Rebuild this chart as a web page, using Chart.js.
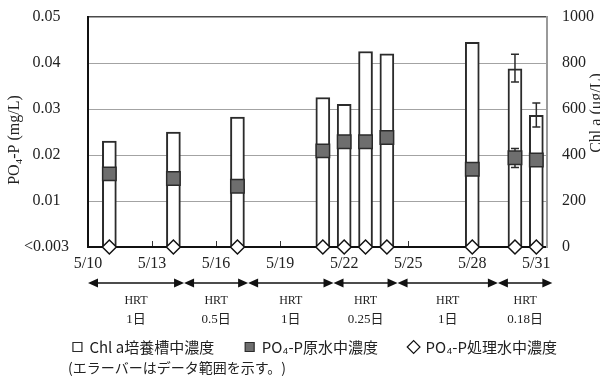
<!DOCTYPE html>
<html>
<head>
<meta charset="utf-8">
<script src="https://cdn.jsdelivr.net/npm/chart.js@4.4.1/dist/chart.umd.min.js"></script>
<style>
  html, body { margin: 0; padding: 0; background: #fff; overflow: hidden; }
  #wrap { width: 600px; height: 381px; position: relative; }
</style>
</head>
<body>
<div id="wrap"><canvas id="c" width="600" height="381"></canvas></div>
<script>
// Sampling dates (May) and measured values
const sampleDates = ['5/11', '5/14', '5/17', '5/21', '5/22', '5/23', '5/24', '5/28', '5/30', '5/31'];
const chlA       = [460, 500, 565, 650, 620, 850, 840, 890, 775, 573];          // µg/L
const chlAMin    = [null, null, null, null, null, null, null, null, 717, 522];
const chlAMax    = [null, null, null, null, null, null, null, null, 838, 626];
const po4Raw     = [0.0159, 0.0149, 0.0132, 0.0209, 0.0229, 0.0229, 0.0238, 0.0169, 0.0194, 0.0189]; // mg/L
const po4RawMin  = [null, null, null, null, null, null, null, null, 0.0173, null];
const po4RawMax  = [null, null, null, null, null, null, null, null, 0.0214, null];
const po4Treated = [0, 0, 0, 0, 0, 0, 0, 0, 0, 0];   // below detection limit (<0.003)

// Axis ticks
const dateTickLabels = ['5/10', '5/13', '5/16', '5/19', '5/22', '5/25', '5/28', '5/31'];
const po4TickValues  = [0, 0.01, 0.02, 0.03, 0.04, 0.05];
const po4TickLabels  = ['<0.003', '0.01', '0.02', '0.03', '0.04', '0.05'];
const chlTickValues  = [0, 200, 400, 600, 800, 1000];
const chlTickLabels  = ['0', '200', '400', '600', '800', '1000'];

// HRT periods: boundaries in days after 5/10, and their labels
const hrtBoundDays = [0, 4.5, 7.5, 11.5, 14.5, 19.2, 21.75];
const hrtLabels    = ['1日', '0.5日', '1日', '0.25日', '1日', '0.18日'];

const seriesNames = ['Chl a培養槽中濃度', 'PO₄-P原水中濃度', 'PO₄-P処理水中濃度'];
const leftTitle  = 'PO₄-P (mg/L)';
const rightTitle = 'Chl a (μg/L)';
const noteText   = '(エラーバーはデータ範囲を示す。)';

const dayOf = s => { const p = s.split('/').map(Number); return p[1] - 10; };
const xs = sampleDates.map(dayOf);
const dateTickValues = dateTickLabels.map(dayOf);
const pts = arr => arr.map((v, i) => ({ x: xs[i], y: v }));

const serif = "'Liberation Serif', 'Noto Sans CJK JP', serif";
const cjk = "'Noto Sans CJK JP', sans-serif";
const ink = '#222';

const decorations = {
  id: 'decorations',
  afterLayout(chart) {
    // legend row sits a little right of the canvas centre
    chart.legend.left += 15;
    chart.legend.right += 15;
  },
  afterDatasetDraw(chart, args) {
    if (args.index !== 0) return;
    const { ctx } = chart;
    const x = chart.scales.x, y = chart.scales.y, y2 = chart.scales.y2;
    ctx.save();
    ctx.strokeStyle = '#2b2b2b';
    ctx.lineWidth = 1.5;
    const cap = 4;
    const whisker = (px, top, bot) => {
      ctx.beginPath();
      ctx.moveTo(px, top); ctx.lineTo(px, bot);
      ctx.moveTo(px - cap, top); ctx.lineTo(px + cap, top);
      ctx.moveTo(px - cap, bot); ctx.lineTo(px + cap, bot);
      ctx.stroke();
    };
    xs.forEach((d, i) => {
      const px = x.getPixelForValue(d);
      if (chlAMin[i] != null) whisker(px, y2.getPixelForValue(chlAMax[i]), y2.getPixelForValue(chlAMin[i]));
      if (po4RawMin[i] != null) whisker(px, y.getPixelForValue(po4RawMax[i]), y.getPixelForValue(po4RawMin[i]));
    });
    ctx.restore();
  },
  afterDraw(chart) {
    const { ctx, chartArea } = chart;
    const x = chart.scales.x;
    const base = chartArea.bottom;
    ctx.save();
    // HRT period arrows
    const ay = base + 36, ah = 10, aw = 4.5;
    ctx.lineWidth = 1.5;
    for (let i = 0; i < hrtLabels.length; i++) {
      const x0 = x.getPixelForValue(hrtBoundDays[i]);
      const x1 = x.getPixelForValue(hrtBoundDays[i + 1]);
      ctx.strokeStyle = '#111';
      ctx.fillStyle = '#111';
      ctx.beginPath();
      ctx.moveTo(x0 + ah - 1, ay); ctx.lineTo(x1 - ah + 1, ay);
      ctx.stroke();
      ctx.beginPath();
      ctx.moveTo(x0, ay); ctx.lineTo(x0 + ah, ay - aw); ctx.lineTo(x0 + ah, ay + aw); ctx.closePath();
      ctx.moveTo(x1, ay); ctx.lineTo(x1 - ah, ay - aw); ctx.lineTo(x1 - ah, ay + aw); ctx.closePath();
      ctx.fill();
      const cx = (x0 + x1) / 2;
      ctx.fillStyle = ink;
      ctx.textAlign = 'center';
      ctx.textBaseline = 'middle';
      ctx.font = '12px ' + serif;
      ctx.fillText('HRT', cx, base + 54);
      ctx.font = '13px ' + serif;
      ctx.fillText(hrtLabels[i], cx, base + 73);
    }
    // Axis titles
    ctx.fillStyle = ink;
    ctx.font = '16px ' + serif;
    ctx.textAlign = 'center';
    ctx.textBaseline = 'middle';
    ctx.save();
    ctx.translate(15, 140);
    ctx.rotate(-Math.PI / 2);
    ctx.fillText(leftTitle, 0, 0);
    ctx.restore();
    ctx.save();
    ctx.translate(597, 113);
    ctx.rotate(-Math.PI / 2);
    ctx.fillText(rightTitle, 0, 0);
    ctx.restore();
    // Footnote
    ctx.font = '14px ' + cjk;
    ctx.textAlign = 'left';
    ctx.fillText(noteText, 68, 368);
    ctx.restore();
  }
};

new Chart(document.getElementById('c'), {
  type: 'bar',
  data: {
    datasets: [
      {
        type: 'bar', label: seriesNames[0], data: pts(chlA), yAxisID: 'y2',
        backgroundColor: '#ffffff', borderColor: '#2b2b2b', borderWidth: 2,
        barThickness: 14, order: 3, pointStyle: 'rect'
      },
      {
        type: 'scatter', label: seriesNames[1], data: pts(po4Raw), yAxisID: 'y',
        pointStyle: 'rect', pointRadius: 9.5, pointHoverRadius: 9.5,
        backgroundColor: '#6e6e6e', borderColor: '#2b2b2b', borderWidth: 1.5,
        order: 2, clip: false
      },
      {
        type: 'scatter', label: seriesNames[2], data: pts(po4Treated), yAxisID: 'y',
        pointStyle: 'rectRot', pointRadius: 7, pointHoverRadius: 7,
        backgroundColor: '#ffffff', borderColor: '#111', borderWidth: 1.5,
        order: 1, clip: false
      }
    ]
  },
  options: {
    responsive: false,
    animation: false,
    events: [],
    layout: { padding: { top: 17, bottom: 16.5, left: 0, right: 0 } },
    plugins: {
      tooltip: { enabled: false },
      legend: {
        position: 'bottom',
        labels: {
          usePointStyle: true,
          boxWidth: 9,
          boxHeight: 9,
          padding: 31,
          color: ink,
          font: { family: cjk, size: 15 },
          generateLabels(chart) {
            const items = Chart.defaults.plugins.legend.labels.generateLabels(chart);
            items.forEach(it => {
              const ds = chart.data.datasets[it.datasetIndex];
              it.pointStyle = ds.pointStyle;
              it.fillStyle = ds.backgroundColor;
              it.strokeStyle = ds.borderColor;
              it.lineWidth = 1.2;
            });
            return items.sort((a, b) => a.datasetIndex - b.datasetIndex);
          }
        }
      }
    },
    scales: {
      x: {
        type: 'linear', min: 0, max: 21.5, offset: false,
        afterBuildTicks: s => { s.ticks = dateTickValues.map(v => ({ value: v })); },
        afterFit: s => { s.height = 61.5; },
        ticks: {
          callback: (v, i) => dateTickLabels[i],
          font: { family: serif, size: 16 }, color: ink,
          padding: 13, maxRotation: 0, autoSkip: false
        },
        grid: { offset: false, drawOnChartArea: false, drawTicks: true, tickLength: -6, tickColor: '#333', tickWidth: 1 },
        border: { color: '#111', width: 2 }
      },
      y: {
        position: 'left', min: 0, max: 0.05,
        afterBuildTicks: s => { s.ticks = po4TickValues.map(v => ({ value: v })); },
        afterFit: s => { s.width = 88; s.paddingTop = 0; s.paddingBottom = 0; },
        ticks: {
          callback: (v, i) => po4TickLabels[i],
          crossAlign: 'center', padding: 19,
          font: { family: serif, size: 16 }, color: ink
        },
        grid: {
          drawTicks: false,
          color: c => c.index === 0 ? 'rgba(0,0,0,0)' : (c.index === po4TickValues.length - 1 ? '#4a4a4a' : '#a3a3a3'),
          lineWidth: c => c.index === po4TickValues.length - 1 ? 1.5 : 1
        },
        border: { color: '#111', width: 2 }
      },
      y2: {
        position: 'right', min: 0, max: 1000,
        afterBuildTicks: s => { s.ticks = chlTickValues.map(v => ({ value: v })); },
        afterFit: s => { s.width = 53; s.paddingTop = 0; s.paddingBottom = 0; },
        ticks: {
          callback: (v, i) => chlTickLabels[i],
          crossAlign: 'near', padding: 15,
          font: { family: serif, size: 16 }, color: ink
        },
        grid: { display: true, drawOnChartArea: false, drawTicks: false },
        border: { display: true, color: '#9a9a9a', width: 2 }
      }
    }
  },
  plugins: [decorations]
});
</script>
</body>
</html>
